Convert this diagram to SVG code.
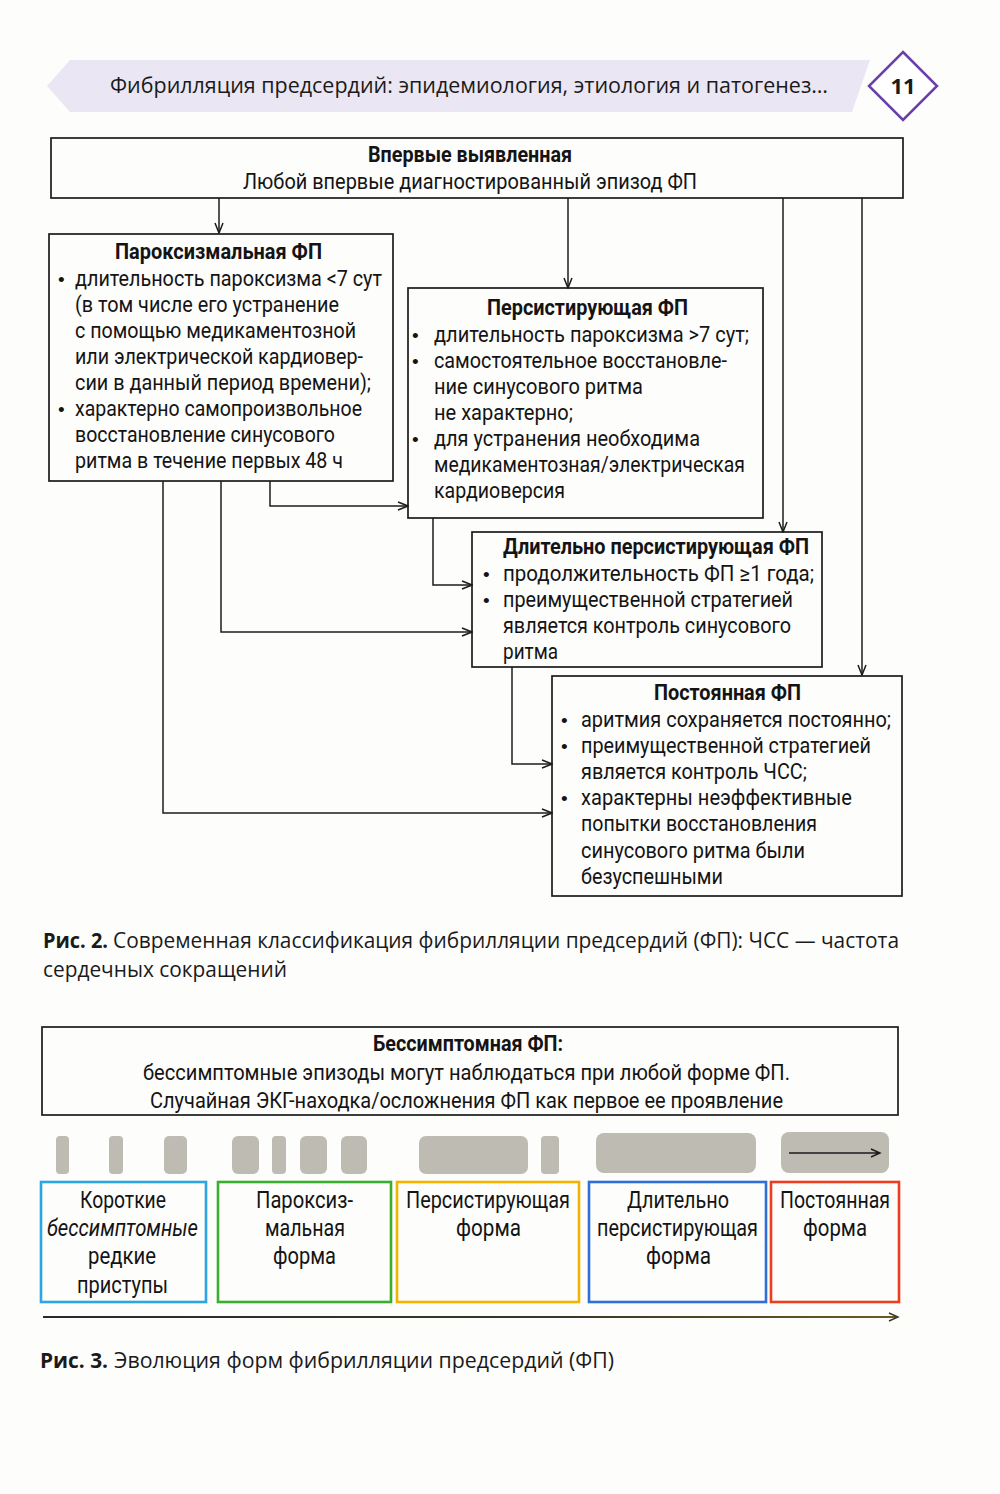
<svg xmlns="http://www.w3.org/2000/svg" width="1000" height="1494" viewBox="0 0 1000 1494">
<defs>
<style>
.bg{fill:#fdfdfc}
.box{fill:none;stroke:#1c1c1c;stroke-width:1.7}
.t{font-family:Roboto,"Liberation Sans",sans-serif;font-size:22px;fill:#141414}
.b{font-weight:bold}
.bu{font-family:"Liberation Sans",sans-serif;font-size:19px}
.cap{font-family:"Open Sans","Liberation Sans",sans-serif;font-size:22px;fill:#1a1a1a}
.con{fill:none;stroke:#1c1c1c;stroke-width:1.5;marker-end:url(#ah)}
.bar{fill:#bdbbb2}
.st{fill:none;stroke-width:2.6}
.bt{font-family:Roboto,"Liberation Sans",sans-serif;font-size:23.5px;fill:#141414}
</style>
<marker id="ah" markerUnits="userSpaceOnUse" markerWidth="12" markerHeight="10" refX="11" refY="5" orient="auto">
<path d="M1,1 L11,5 L1,9" fill="none" stroke="#1c1c1c" stroke-width="1.5"/>
</marker>
<linearGradient id="tl" x1="0" x2="1" y1="0" y2="0">
<stop offset="0" stop-color="#2a2a2a"/>
<stop offset="0.6" stop-color="#3a3628"/>
<stop offset="1" stop-color="#6a5c22"/>
</linearGradient>
</defs>
<rect class="bg" x="0" y="0" width="1000" height="1494"/>

<g id="header">
<polygon points="47,86 70,60 870,60 852,112 70,112" fill="#eae6f3"/>
<text class="cap" x="110" y="93" font-size="23" textLength="718" lengthAdjust="spacingAndGlyphs">Фибрилляция предсердий: эпидемиология, этиология и патогенез…</text>
<polygon points="903,52 937,86 903,120 869,86" fill="#ffffff" stroke="#6a3fa8" stroke-width="2.5"/>
<text class="cap b" x="903" y="94" text-anchor="middle" font-size="21">11</text>
</g>

<g id="connectors">
<path class="con" d="M219,198 V233"/>
<path class="con" d="M568,198 V288"/>
<path class="con" d="M783,198 V532"/>
<path class="con" d="M862,198 V675"/>
<path class="con" d="M270,481 V506 H408"/>
<path class="con" d="M221,481 V632 H472"/>
<path class="con" d="M163,481 V813 H552"/>
<path class="con" d="M433,518 V585 H472"/>
<path class="con" d="M512,667 V764 H552"/>
</g>

<g id="node-first">
<rect class="box" x="51" y="138" width="852" height="60"/>
<text class="t b" x="368" y="162" textLength="204" lengthAdjust="spacingAndGlyphs">Впервые выявленная</text>
<text class="t" x="243" y="189" textLength="454" lengthAdjust="spacingAndGlyphs">Любой впервые диагностированный эпизод ФП</text>
</g>

<g id="node-paroxysmal">
<rect class="box" x="49" y="234" width="344" height="247"/>
<text class="t b" x="115" y="259" textLength="207" lengthAdjust="spacingAndGlyphs">Пароксизмальная ФП</text>
<text class="t" y="286"><tspan class="bu" x="58">•</tspan><tspan x="75" textLength="307" lengthAdjust="spacingAndGlyphs">длительность пароксизма &lt;7 сут</tspan></text>
<text class="t" x="75" y="312" textLength="264" lengthAdjust="spacingAndGlyphs">(в том числе его устранение</text>
<text class="t" x="75" y="338" textLength="281" lengthAdjust="spacingAndGlyphs">с помощью медикаментозной</text>
<text class="t" x="75" y="364" textLength="288" lengthAdjust="spacingAndGlyphs">или электрической кардиовер-</text>
<text class="t" x="75" y="390" textLength="296" lengthAdjust="spacingAndGlyphs">сии в данный период времени);</text>
<text class="t" y="416"><tspan class="bu" x="58">•</tspan><tspan x="75" textLength="287" lengthAdjust="spacingAndGlyphs">характерно самопроизвольное</tspan></text>
<text class="t" x="75" y="442" textLength="260" lengthAdjust="spacingAndGlyphs">восстановление синусового</text>
<text class="t" x="75" y="468" textLength="268" lengthAdjust="spacingAndGlyphs">ритма в течение первых 48 ч</text>
</g>

<g id="node-persistent">
<rect class="box" x="408" y="288" width="355" height="230"/>
<text class="t b" x="487" y="315" textLength="201" lengthAdjust="spacingAndGlyphs">Персистирующая ФП</text>
<text class="t" y="342"><tspan class="bu" x="412">•</tspan><tspan x="434" textLength="315" lengthAdjust="spacingAndGlyphs">длительность пароксизма &gt;7 сут;</tspan></text>
<text class="t" y="368"><tspan class="bu" x="412">•</tspan><tspan x="434" textLength="293" lengthAdjust="spacingAndGlyphs">самостоятельное восстановле-</tspan></text>
<text class="t" x="434" y="394" textLength="209" lengthAdjust="spacingAndGlyphs">ние синусового ритма</text>
<text class="t" x="434" y="420" textLength="139" lengthAdjust="spacingAndGlyphs">не характерно;</text>
<text class="t" y="446"><tspan class="bu" x="412">•</tspan><tspan x="434" textLength="266" lengthAdjust="spacingAndGlyphs">для устранения необходима</tspan></text>
<text class="t" x="434" y="472" textLength="311" lengthAdjust="spacingAndGlyphs">медикаментозная/электрическая</text>
<text class="t" x="434" y="498" textLength="131" lengthAdjust="spacingAndGlyphs">кардиоверсия</text>
</g>

<g id="node-longstanding">
<rect class="box" x="472" y="532" width="350" height="135"/>
<text class="t b" x="503" y="554" textLength="306" lengthAdjust="spacingAndGlyphs">Длительно персистирующая ФП</text>
<text class="t" y="581"><tspan class="bu" x="483">•</tspan><tspan x="503" textLength="311" lengthAdjust="spacingAndGlyphs">продолжительность ФП ≥1 года;</tspan></text>
<text class="t" y="607"><tspan class="bu" x="483">•</tspan><tspan x="503" textLength="290" lengthAdjust="spacingAndGlyphs">преимущественной стратегией</tspan></text>
<text class="t" x="503" y="633" textLength="288" lengthAdjust="spacingAndGlyphs">является контроль синусового</text>
<text class="t" x="503" y="659" textLength="55" lengthAdjust="spacingAndGlyphs">ритма</text>
</g>

<g id="node-permanent">
<rect class="box" x="552" y="676" width="350" height="220"/>
<text class="t b" x="654" y="700" textLength="147" lengthAdjust="spacingAndGlyphs">Постоянная ФП</text>
<text class="t" y="727"><tspan class="bu" x="561">•</tspan><tspan x="581" textLength="310" lengthAdjust="spacingAndGlyphs">аритмия сохраняется постоянно;</tspan></text>
<text class="t" y="753"><tspan class="bu" x="561">•</tspan><tspan x="581" textLength="290" lengthAdjust="spacingAndGlyphs">преимущественной стратегией</tspan></text>
<text class="t" x="581" y="779" textLength="226" lengthAdjust="spacingAndGlyphs">является контроль ЧСС;</text>
<text class="t" y="805"><tspan class="bu" x="561">•</tspan><tspan x="581" textLength="271" lengthAdjust="spacingAndGlyphs">характерны неэффективные</tspan></text>
<text class="t" x="581" y="831" textLength="236" lengthAdjust="spacingAndGlyphs">попытки восстановления</text>
<text class="t" x="581" y="858" textLength="224" lengthAdjust="spacingAndGlyphs">синусового ритма были</text>
<text class="t" x="581" y="884" textLength="142" lengthAdjust="spacingAndGlyphs">безуспешными</text>
</g>

<g id="caption-fig2">
<text class="cap b" x="43" y="948" textLength="65" lengthAdjust="spacingAndGlyphs">Рис. 2.</text>
<text class="cap" x="113" y="948" textLength="786" lengthAdjust="spacingAndGlyphs">Современная классификация фибрилляции предсердий (ФП): ЧСС — частота</text>
<text class="cap" x="43" y="977" textLength="244" lengthAdjust="spacingAndGlyphs">сердечных сокращений</text>
</g>

<g id="node-asymptomatic">
<rect class="box" x="42" y="1027" width="856" height="88"/>
<text class="t b" x="373" y="1051" font-size="22.5" textLength="190" lengthAdjust="spacingAndGlyphs">Бессимптомная ФП:</text>
<text class="t" x="143" y="1080" font-size="22.5" textLength="647" lengthAdjust="spacingAndGlyphs">бессимптомные эпизоды могут наблюдаться при любой форме ФП.</text>
<text class="t" x="150" y="1108" font-size="22.5" textLength="633" lengthAdjust="spacingAndGlyphs">Случайная ЭКГ-находка/осложнения ФП как первое ее проявление</text>
</g>

<g id="episode-bars">
<rect class="bar" x="56" y="1136" width="13" height="38" rx="4"/>
<rect class="bar" x="109" y="1136" width="14" height="38" rx="4"/>
<rect class="bar" x="164" y="1136" width="23" height="38" rx="5"/>
<rect class="bar" x="232" y="1136" width="27" height="38" rx="6"/>
<rect class="bar" x="272" y="1136" width="14" height="38" rx="4"/>
<rect class="bar" x="300" y="1136" width="27" height="38" rx="6"/>
<rect class="bar" x="341" y="1136" width="26" height="38" rx="6"/>
<rect class="bar" x="419" y="1136" width="109" height="38" rx="7"/>
<rect class="bar" x="541" y="1136" width="18" height="38" rx="4"/>
<rect class="bar" x="596" y="1133" width="160" height="40" rx="8"/>
<rect class="bar" x="781" y="1132" width="108" height="41" rx="8"/>
<path d="M789,1153 H880 M871,1149 L880,1153 L871,1157" fill="none" stroke="#1c1c1c" stroke-width="1.4"/>
</g>

<g id="stage-short">
<rect class="st" x="41" y="1182" width="165" height="120" stroke="#2ba6e0"/>
<text class="bt" x="80" y="1208" textLength="86" lengthAdjust="spacingAndGlyphs">Короткие</text>
<text class="bt" x="47" y="1236" font-style="italic" textLength="151" lengthAdjust="spacingAndGlyphs">бессимптомные</text>
<text class="bt" x="88" y="1264" textLength="68" lengthAdjust="spacingAndGlyphs">редкие</text>
<text class="bt" x="77" y="1293" textLength="91" lengthAdjust="spacingAndGlyphs">приступы</text>
</g>
<g id="stage-paroxysmal">
<rect class="st" x="218" y="1182" width="173" height="120" stroke="#3aae2e"/>
<text class="bt" x="256" y="1208" textLength="97" lengthAdjust="spacingAndGlyphs">Пароксиз-</text>
<text class="bt" x="265" y="1236" textLength="80" lengthAdjust="spacingAndGlyphs">мальная</text>
<text class="bt" x="273" y="1264" textLength="63" lengthAdjust="spacingAndGlyphs">форма</text>
</g>
<g id="stage-persistent">
<rect class="st" x="397" y="1182" width="182" height="120" stroke="#f3b400"/>
<text class="bt" x="406" y="1208" textLength="164" lengthAdjust="spacingAndGlyphs">Персистирующая</text>
<text class="bt" x="456" y="1236" textLength="65" lengthAdjust="spacingAndGlyphs">форма</text>
</g>
<g id="stage-longstanding">
<rect class="st" x="589" y="1182" width="177" height="120" stroke="#2f6fd8"/>
<text class="bt" x="627" y="1208" textLength="102" lengthAdjust="spacingAndGlyphs">Длительно</text>
<text class="bt" x="597" y="1236" textLength="161" lengthAdjust="spacingAndGlyphs">персистирующая</text>
<text class="bt" x="646" y="1264" textLength="65" lengthAdjust="spacingAndGlyphs">форма</text>
</g>
<g id="stage-permanent">
<rect class="st" x="771" y="1182" width="128" height="120" stroke="#ee3c1f"/>
<text class="bt" x="780" y="1208" textLength="110" lengthAdjust="spacingAndGlyphs">Постоянная</text>
<text class="bt" x="803" y="1236" textLength="64" lengthAdjust="spacingAndGlyphs">форма</text>
</g>

<g id="timeline">
<rect x="43" y="1316" width="853" height="2" fill="url(#tl)"/>
<path d="M889,1313 L898,1317 L889,1321" fill="none" stroke="#3a3420" stroke-width="1.4"/>
</g>

<g id="caption-fig3">
<text class="cap b" x="40" y="1368" textLength="68" lengthAdjust="spacingAndGlyphs">Рис. 3.</text>
<text class="cap" x="114" y="1368" textLength="500" lengthAdjust="spacingAndGlyphs">Эволюция форм фибрилляции предсердий (ФП)</text>
</g>
</svg>
